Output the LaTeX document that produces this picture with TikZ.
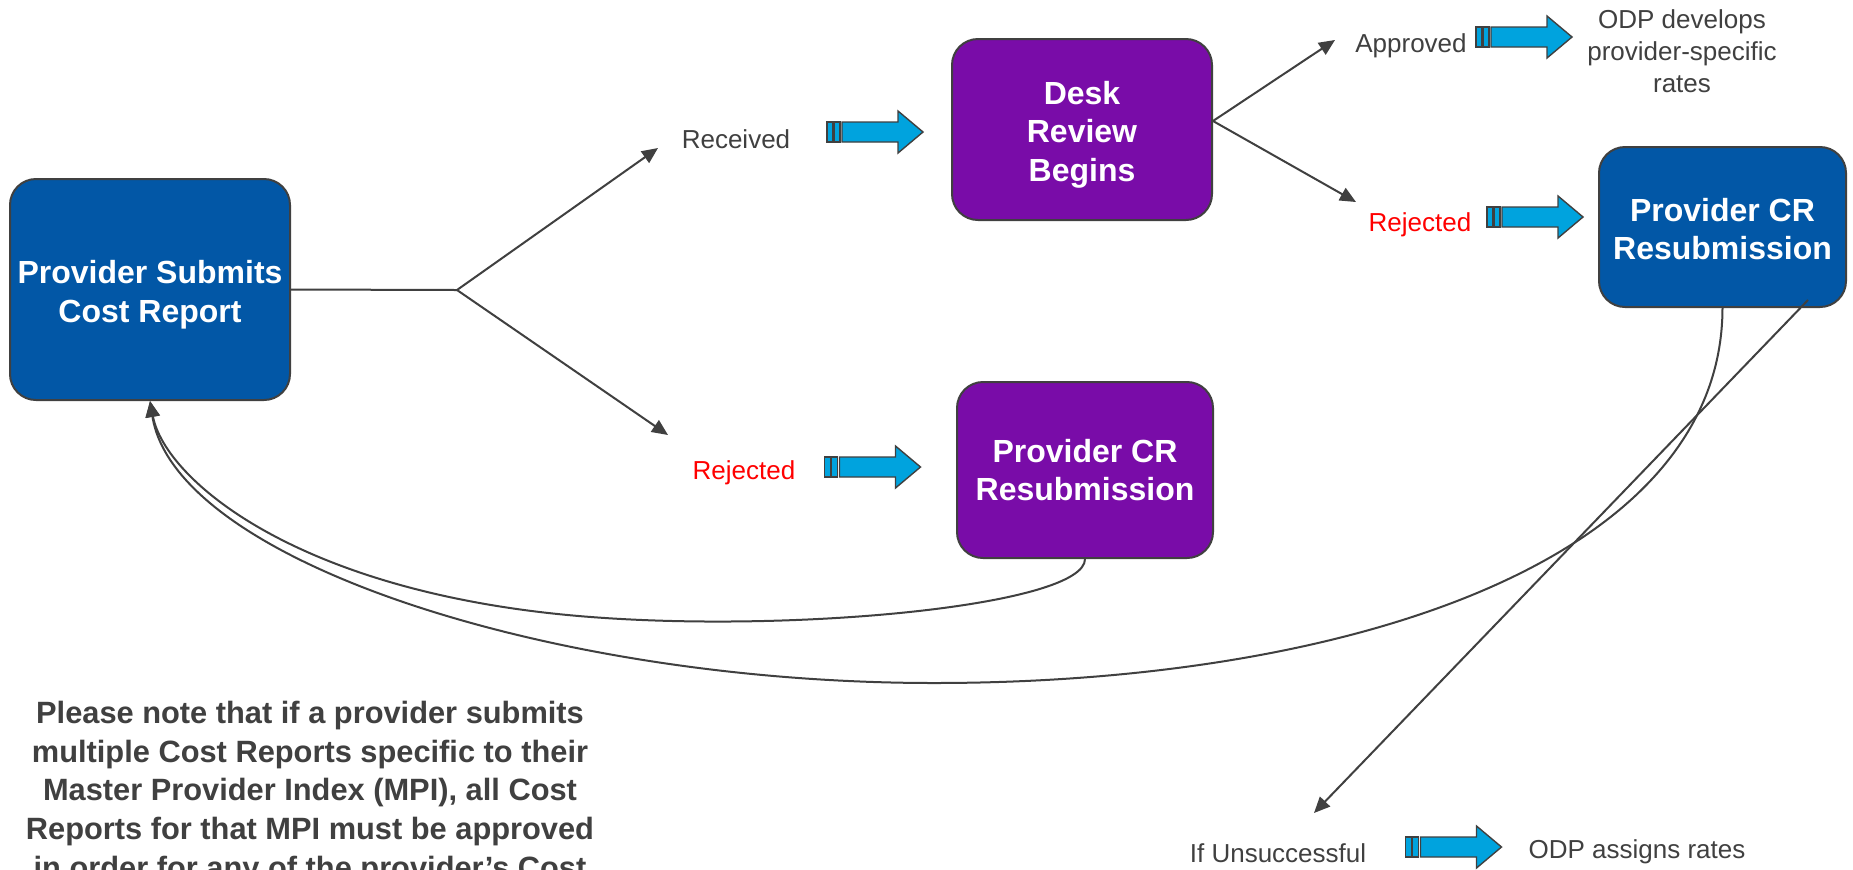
\documentclass[tikz,border=0pt]{standalone}
\usepackage{fontspec}
\setmainfont{Liberation Sans}
\usetikzlibrary{arrows.meta}
\definecolor{boxblue}{HTML}{0257A6}
\definecolor{boxpurple}{HTML}{790CA8}
\definecolor{arrowcyan}{HTML}{00A3DE}
\definecolor{linegray}{HTML}{404040}
\definecolor{labelgray}{HTML}{404040}
\definecolor{rejred}{HTML}{FF0000}
\newcommand{\toppad}[1]{\rule{0pt}{#1}}
\tikzset{
  pics/blockarrow/.style={code={
    \draw[barrow] (0,-10) rectangle (6,10);
    \draw[barrow] (7,-10) rectangle (13,10);
    \draw[barrow] (15,-10) -- (71,-10) -- (71,-21) -- (96,0) -- (71,21) -- (71,10) -- (15,10) -- cycle;
  }}
}
\begin{document}
\begin{tikzpicture}[x=0.5pt,y=-0.5pt,
  box/.style={draw=linegray, line width=1pt, rounded corners=13pt, text=white,
    font=\bfseries\fontsize{16}{19.2}\selectfont, align=center, inner sep=0pt},
  bluebox/.style={box, fill=boxblue},
  purplebox/.style={box, fill=boxpurple},
  lbl/.style={font=\fontsize{13}{16}\selectfont, text=labelgray, inner sep=0pt, anchor=base},
  rej/.style={lbl, text=rejred},
  conn/.style={draw=linegray, line width=1pt},
  arr/.style={conn, -{Triangle[length=8pt,width=7pt]}},
  barrow/.style={draw=linegray, line width=0.7pt, fill=arrowcyan},
  note/.style={font=\bfseries\fontsize{15.4}{19.3}\selectfont, text=labelgray, align=center, inner sep=0pt, anchor=north},
]
\useasboundingbox (0,0) rectangle (1853,869);
\fill[white] (0,0) rectangle (1853,869);
\clip (0,0) rectangle (1853,869);

% boxes
\node[bluebox, minimum width=140pt, minimum height=110.5pt] (submit) at (150,289.5) {\toppad{16.7pt}Provider Submits\\Cost Report};
\node[purplebox, minimum width=130pt, minimum height=90.5pt] (desk) at (1082,129.5) {\toppad{16.7pt}Desk\\Review\\Begins};
\node[purplebox, minimum width=128pt, minimum height=88pt] (resubA) at (1085,470) {Provider CR\\Resubmission};
\node[bluebox, minimum width=123.5pt, minimum height=80pt] (resubB) at (1722.5,227) {\toppad{13.8pt}Provider CR\\Resubmission};

% labels
\node[lbl] (received) at (736,148) {Received};
\node[rej] (rejA) at (744,479) {Rejected};
\node[lbl] (approved) at (1411,52) {Approved};
\node[rej] (rejB) at (1420,231) {Rejected};
\node[lbl] (unsucc) at (1278,862) {If Unsuccessful};
\node[lbl] (assigns) at (1637,858) {ODP assigns rates};
\node[font=\fontsize{13}{16}\selectfont, text=labelgray, align=center, inner sep=0pt, anchor=north] (develops) at (1682,9) {ODP develops\\provider-specific\\rates};
\node[note] (note) at (310,701) {Please note that if a provider submits\\multiple Cost Reports specific to their\\Master Provider Index (MPI), all Cost\\Reports for that MPI must be approved\\in order for any of the provider’s Cost};

% coordinates
\coordinate (branch) at (457,290);
\coordinate (recTip) at (658,148);
\coordinate (rejTipA) at (668,435);
\coordinate (deskJ) at (1213,121);
\coordinate (appTip) at (1335,40);
\coordinate (rejTipB) at (1356,202);
\coordinate (uStart) at (1808,300);
\coordinate (uTip) at (1314,813);
\coordinate (innerMin) at (591,617);
\coordinate (outerMin) at (934,683);

% connectors
\draw[conn] (submit.east) -- (branch);
\draw[arr] (branch) -- (recTip);
\draw[arr] (branch) -- (rejTipA);
\draw[arr] (deskJ) -- (appTip);
\draw[arr] (deskJ) -- (rejTipB);
\draw[arr] (uStart) -- (uTip);
\draw[arr] (resubA.south) .. controls (1085,605) and (800,633) .. (innerMin) .. controls (300,595) and (165,480) .. (submit.south);
\draw[arr] (resubB.south) .. controls (1722,560) and (1350,683) .. (outerMin) .. controls (550,683) and (175,560) .. (submit.south);

% block arrows
\pic (baRec) at (827,132) {blockarrow};
\pic (baRejA) at (824.5,467) {blockarrow};
\pic (baApp) at (1476,37) {blockarrow};
\pic (baRejB) at (1487,217) {blockarrow};
\pic (baUns) at (1405.5,847) {blockarrow};
\end{tikzpicture}
\end{document}
